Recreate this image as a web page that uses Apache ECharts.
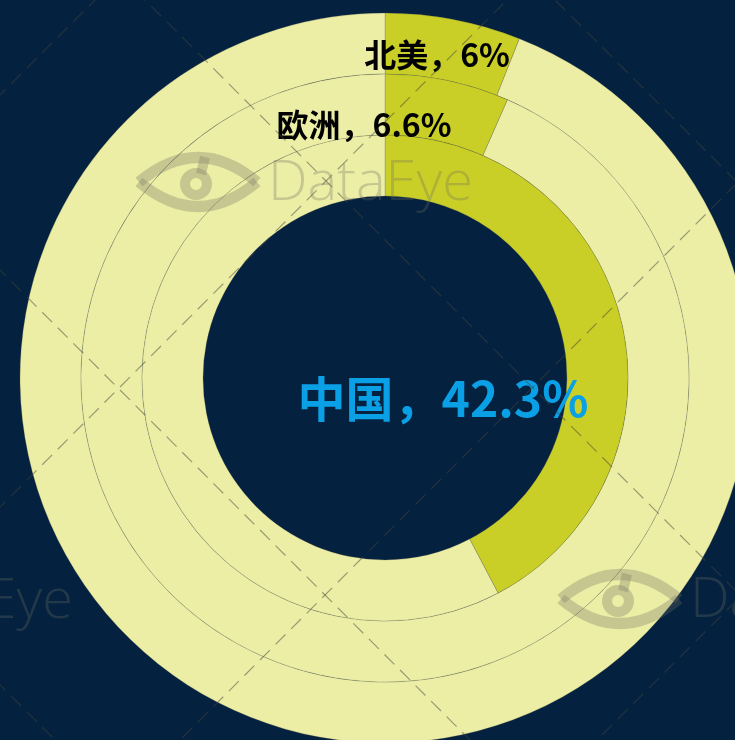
<!DOCTYPE html>
<html>
<head>
<meta charset="utf-8">
<script src="https://cdn.jsdelivr.net/npm/echarts@6/dist/echarts.min.js"></script>
<style>
    html, body { margin: 0; padding: 0; background: #04213f; }
    #main { width: 735px; height: 740px; }
</style>
</head>
<body>
<div id="main"></div>
<script>
// 区域占比（外圈 -> 内圈）
var regions = ['北美', '欧洲', '中国'];
var shares = [6, 6.6, 42.3];

(function () {
    var myChart = echarts.init(document.getElementById('main'));

    var ringRadius = [[304, 365], [243, 304], [182, 243]];
    var labelPos = [{ x: 437, y: 55 }, { x: 364, y: 125 }, { x: 443, y: 399 }];
    var labelSize = [32, 32, 48];
    var labelColor = ['#000', '#000', '#0aa0e6'];

    var series = regions.map(function (name, i) {
        return {
            type: 'pie',
            center: [385, 378],
            radius: ringRadius[i],
            startAngle: 90,
            clockwise: true,
            silent: true,
            animation: false,
            emphasis: { disabled: true },
            labelLine: { show: false },
            itemStyle: {
                borderColor: 'rgba(100,100,80,0.5)',
                borderWidth: 0.5
            },
            label: { show: false },
            labelLayout: labelPos[i],
            data: [
                {
                    name: name,
                    value: shares[i],
                    itemStyle: { color: '#c9cf26' },
                    label: {
                        show: true,
                        position: 'inside',
                        formatter: '{b}，{c}%',
                        color: labelColor[i],
                        fontSize: labelSize[i],
                        fontWeight: 'bold',
                        fontFamily: '"Noto Sans CJK SC", "Noto Sans", sans-serif'
                    }
                },
                {
                    name: '其他',
                    value: +(100 - shares[i]).toFixed(1),
                    itemStyle: { color: '#eceea5' }
                }
            ]
        };
    });

    // 背景水印：虚线网格
    var lineStroke = 'rgba(70,70,60,0.5)';
    var graphics = [];
    [685, 270, -145, -555].forEach(function (c) {
        graphics.push({
            type: 'line', silent: true, zlevel: 1,
            shape: { x1: -20, y1: -20 + c, x2: 760, y2: 760 + c },
            style: { stroke: lineStroke, lineWidth: 1.2, lineDash: [14, 8] }
        });
    });
    [95, 507, 920, 1337].forEach(function (s) {
        graphics.push({
            type: 'line', silent: true, zlevel: 1,
            shape: { x1: -20, y1: s + 20, x2: 760, y2: s - 760 },
            style: { stroke: lineStroke, lineWidth: 1.2, lineDash: [14, 8] }
        });
    });

    // DataEye 水印
    var markFill = 'rgba(110,110,95,0.3)';
    function dataEye(x, y) {
        return {
            type: 'group', x: x, y: y, silent: true, zlevel: 1,
            children: [
                {
                    type: 'bezierCurve', zlevel: 1,
                    shape: { x1: 4, y1: 29, x2: 122, y2: 29, cpx1: 63, cpy1: -20 },
                    style: { fill: null, stroke: markFill, lineWidth: 11 }
                },
                {
                    type: 'bezierCurve', zlevel: 1,
                    shape: { x1: 4, y1: 29, x2: 122, y2: 29, cpx1: 63, cpy1: 78 },
                    style: { fill: null, stroke: markFill, lineWidth: 11 }
                },
                {
                    type: 'circle', zlevel: 1,
                    shape: { cx: 61, cy: 31, r: 11 },
                    style: { fill: null, stroke: markFill, lineWidth: 10 }
                },
                {
                    type: 'line', zlevel: 1,
                    shape: { x1: 66, y1: 21, x2: 70, y2: 4 },
                    style: { stroke: markFill, lineWidth: 10 }
                },
                {
                    type: 'text', zlevel: 1,
                    style: {
                        text: 'DataEye', x: 133, y: 31,
                        verticalAlign: 'middle',
                        font: '300 56px "Open Sans", sans-serif',
                        fill: markFill
                    }
                }
            ]
        };
    }
    graphics.push(dataEye(135, 153));
    graphics.push(dataEye(557, 570));
    graphics.push(dataEye(-265, 571));

    var option = {
        backgroundColor: '#04213f',
        animation: false,
        graphic: graphics,
        series: series
    };

    myChart.setOption(option);
    window.addEventListener('resize', function () { myChart.resize(); });
})();
</script>
</body>
</html>
